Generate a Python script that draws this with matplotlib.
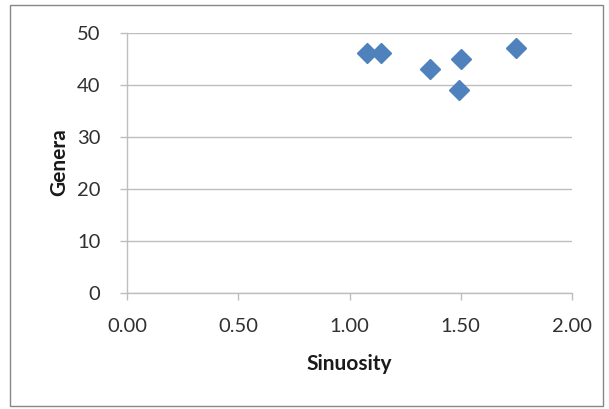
import matplotlib
matplotlib.use("Agg")
import matplotlib.pyplot as plt
from matplotlib.patches import Rectangle

sinuosity = [1.08, 1.14, 1.36, 1.49, 1.50, 1.75]
genera = [46, 46, 43, 39, 45, 47]
x_ticks = [0.0, 0.5, 1.0, 1.5, 2.0]
x_tick_labels = ["0.00", "0.50", "1.00", "1.50", "2.00"]
y_ticks = [0, 10, 20, 30, 40, 50]

plt.rcParams['font.family'] = ['Lato', 'DejaVu Sans']

fig = plt.figure(figsize=(6.09, 4.09), dpi=100)
fig.patches.append(Rectangle((10/609, 1 - 406/409), 593/609, 401/409,
                             transform=fig.transFigure, fill=False,
                             edgecolor='#878787', linewidth=1.0))
ax = fig.add_axes([127/609, 1 - 292.6/409, 445/609, 260/409])

grid_c = '#BEBEBE'
ax.set_xlim(0, 2)
ax.set_ylim(0, 50)
ax.set_xticks(x_ticks)
ax.set_xticklabels(x_tick_labels)
ax.set_yticks(y_ticks)
ax.yaxis.grid(True, color=grid_c, linewidth=1.0)
ax.set_axisbelow(True)
for s in ['top', 'right']:
    ax.spines[s].set_visible(False)
for s in ['left', 'bottom']:
    ax.spines[s].set_color(grid_c)
    ax.spines[s].set_linewidth(1.0)
ax.tick_params(axis='both', direction='out', length=5, width=1.0, color=grid_c,
               labelsize=14.5, labelcolor='#303030')
ax.tick_params(axis='y', pad=14)
ax.tick_params(axis='x', pad=13)

ax.plot(sinuosity, genera, linestyle='none', marker='D', markersize=10.5,
        color='#4F81BD', markeredgecolor='#4F81BD', clip_on=False)

ax.set_xlabel('Sinuosity', fontsize=15, fontweight='bold', color='#1a1a1a', labelpad=14)
ax.set_ylabel('Genera', fontsize=15, fontweight='bold', color='#1a1a1a', labelpad=6)

fig.savefig('out.png', dpi=100)
